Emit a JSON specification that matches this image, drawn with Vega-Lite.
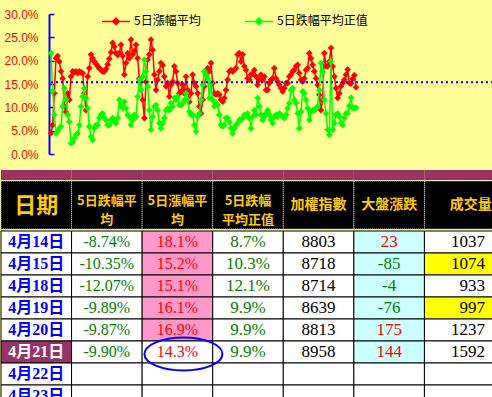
{
 "$schema": "https://vega.github.io/schema/vega-lite/v6.json",
 "background": "#FFFF99",
 "padding": {"left": 0, "top": 6, "right": 0, "bottom": 0},
 "config": {"view": {"stroke": null}},
 "datasets": {
  "series": [
{"i":0,"up":4.5,"dn":21.6},{"i":1,"up":6.2,"dn":13.5},{"i":2,"up":13,"dn":8.4},{"i":3,"up":20.5,"dn":4.4},{"i":4,"up":21,"dn":4.8},{"i":5,"up":19.8,"dn":5.5},{"i":6,"up":17.7,"dn":5.9},{"i":7,"up":16.2,"dn":10.2},{"i":8,"up":10.2,"dn":14.1},{"i":9,"up":9,"dn":11.6},
{"i":10,"up":13,"dn":8.4},{"i":11,"up":11.6,"dn":6.9},{"i":12,"up":16.6,"dn":2.3},{"i":13,"up":17.7,"dn":2.6},{"i":14,"up":17.5,"dn":3.4},{"i":15,"up":17.7,"dn":4.1},{"i":16,"up":17.3,"dn":4.4},{"i":17,"up":17.7,"dn":6.2},{"i":18,"up":17.5,"dn":10.2},{"i":19,"up":17.3,"dn":12.3},
{"i":20,"up":13,"dn":14.1},{"i":21,"up":9.4,"dn":12},{"i":22,"up":16.6,"dn":9.8},{"i":23,"up":18.4,"dn":5.9},{"i":24,"up":21.3,"dn":3.7},{"i":25,"up":20.5,"dn":3},{"i":26,"up":19.8,"dn":5.5},{"i":27,"up":19.3,"dn":6.2},{"i":28,"up":18.8,"dn":6.2},{"i":29,"up":18.4,"dn":7.7},
{"i":30,"up":18,"dn":8.4},{"i":31,"up":17.7,"dn":8.7},{"i":32,"up":17.7,"dn":7.7},{"i":33,"up":18.2,"dn":7.3},{"i":34,"up":19.2,"dn":6.2},{"i":35,"up":20.4,"dn":6.2},{"i":36,"up":21.8,"dn":7.3},{"i":37,"up":23.8,"dn":7.7},{"i":38,"up":23,"dn":6.9},{"i":39,"up":21.6,"dn":6.6},
{"i":40,"up":21.2,"dn":7.7},{"i":41,"up":21.6,"dn":11.6},{"i":42,"up":23.4,"dn":10.2},{"i":43,"up":21,"dn":9.8},{"i":44,"up":17,"dn":11.2},{"i":45,"up":19.5,"dn":9.8},{"i":46,"up":21.6,"dn":8.4},{"i":47,"up":20.5,"dn":8},{"i":48,"up":24.5,"dn":6.2},{"i":49,"up":21.3,"dn":7.3},
{"i":50,"up":22,"dn":8.4},{"i":51,"up":23.4,"dn":8},{"i":52,"up":20.5,"dn":12.3},{"i":53,"up":16.2,"dn":15.9},{"i":54,"up":15.5,"dn":13.7},{"i":55,"up":11.6,"dn":16.6},{"i":56,"up":7.7,"dn":20.2},{"i":57,"up":15.5,"dn":17.7},{"i":58,"up":20.2,"dn":14.5},{"i":59,"up":21.3,"dn":9.4},
{"i":60,"up":24.5,"dn":5.2},{"i":61,"up":22.3,"dn":8},{"i":62,"up":17,"dn":10.2},{"i":63,"up":13.7,"dn":10.5},{"i":64,"up":15.9,"dn":9.4},{"i":65,"up":17.7,"dn":6.6},{"i":66,"up":19.5,"dn":5.5},{"i":67,"up":19,"dn":6.6},{"i":68,"up":16.6,"dn":7.7},{"i":69,"up":14.5,"dn":9.4},
{"i":70,"up":15.2,"dn":9.8},{"i":71,"up":12.3,"dn":9.4},{"i":72,"up":14.8,"dn":10.9},{"i":73,"up":15.5,"dn":10.2},{"i":74,"up":18.8,"dn":12},{"i":75,"up":17.7,"dn":11.6},{"i":76,"up":15.2,"dn":12.3},{"i":77,"up":13,"dn":10.5},{"i":78,"up":13.4,"dn":10.5},{"i":79,"up":14.8,"dn":10.9},
{"i":80,"up":13,"dn":11.6},{"i":81,"up":16.6,"dn":13},{"i":82,"up":13.7,"dn":11.6},{"i":83,"up":11.2,"dn":9.1},{"i":84,"up":13,"dn":8.4},{"i":85,"up":17,"dn":8.4},{"i":86,"up":15.2,"dn":6.2},{"i":87,"up":14.5,"dn":4.8},{"i":88,"up":13,"dn":8},{"i":89,"up":10.2,"dn":8.7},
{"i":90,"up":8.7,"dn":11.6},{"i":91,"up":11.6,"dn":14.8},{"i":92,"up":14.5,"dn":17.7},{"i":93,"up":17,"dn":17},{"i":94,"up":18.4,"dn":16.2},{"i":95,"up":17.7,"dn":12},{"i":96,"up":19.5,"dn":15.2},{"i":97,"up":15.2,"dn":11.6},{"i":98,"up":13,"dn":10.2},{"i":99,"up":12.7,"dn":10.9},
{"i":100,"up":13,"dn":10.5},{"i":101,"up":12.7,"dn":8.4},{"i":102,"up":11.6,"dn":6.2},{"i":103,"up":11.2,"dn":5.9},{"i":104,"up":12,"dn":6.2},{"i":105,"up":13.7,"dn":7.7},{"i":106,"up":15.9,"dn":7.7},{"i":107,"up":17.7,"dn":6.9},{"i":108,"up":18,"dn":5.5},{"i":109,"up":17.7,"dn":4.4},
{"i":110,"up":18,"dn":5.5},{"i":111,"up":18.4,"dn":6.2},{"i":112,"up":21.3,"dn":6.6},{"i":113,"up":21.6,"dn":7.3},{"i":114,"up":19.8,"dn":7.3},{"i":115,"up":21.3,"dn":7.7},{"i":116,"up":18.8,"dn":8.4},{"i":117,"up":18,"dn":8.4},{"i":118,"up":16.2,"dn":8.7},{"i":119,"up":15.9,"dn":7.7},
{"i":120,"up":17,"dn":5.5},{"i":121,"up":17.3,"dn":8},{"i":122,"up":18,"dn":9.4},{"i":123,"up":16.6,"dn":8.4},{"i":124,"up":14.8,"dn":12},{"i":125,"up":15.9,"dn":10.2},{"i":126,"up":17,"dn":8.4},{"i":127,"up":15.9,"dn":7.3},{"i":128,"up":16.6,"dn":8},{"i":129,"up":13.7,"dn":8.7},
{"i":130,"up":13.7,"dn":9.4},{"i":131,"up":15.2,"dn":8.4},{"i":132,"up":15.9,"dn":7.3},{"i":133,"up":16.2,"dn":6.6},{"i":134,"up":18.4,"dn":8},{"i":135,"up":16.2,"dn":8.4},{"i":136,"up":15.5,"dn":8},{"i":137,"up":14.8,"dn":8.7},{"i":138,"up":14.1,"dn":8.4},{"i":139,"up":13.4,"dn":8},
{"i":140,"up":14.1,"dn":7.7},{"i":141,"up":15.2,"dn":8.4},{"i":142,"up":15.2,"dn":9.8},{"i":143,"up":16.6,"dn":10.9},{"i":144,"up":17,"dn":13.7},{"i":145,"up":17.7,"dn":14.1},{"i":146,"up":18,"dn":11.6},{"i":147,"up":18.8,"dn":10.9},{"i":148,"up":19.1,"dn":8.7},{"i":149,"up":17.3,"dn":5.5},
{"i":150,"up":15.9,"dn":9.1},{"i":151,"up":15.5,"dn":13.4},{"i":152,"up":16.2,"dn":13},{"i":153,"up":18,"dn":11.6},{"i":154,"up":18.4,"dn":9.8},{"i":155,"up":21.6,"dn":7.3},{"i":156,"up":20.5,"dn":9.1},{"i":157,"up":19.1,"dn":9.4},{"i":158,"up":17.7,"dn":9.4},{"i":159,"up":16.2,"dn":9.8},
{"i":160,"up":14.8,"dn":10.2},{"i":161,"up":12.7,"dn":13.7},{"i":162,"up":9.4,"dn":19.5},{"i":163,"up":11.6,"dn":17.7},{"i":164,"up":21.6,"dn":11.6},{"i":165,"up":18.8,"dn":8.7},{"i":166,"up":18.8,"dn":5.2},{"i":167,"up":19.8,"dn":4.1},{"i":168,"up":22.7,"dn":19.8},{"i":169,"up":18.8,"dn":5.2},
{"i":170,"up":16.6,"dn":6.6},{"i":171,"up":14.1,"dn":8.4},{"i":172,"up":12,"dn":8.7},{"i":173,"up":13,"dn":8},{"i":174,"up":14.5,"dn":6.6},{"i":175,"up":15.2,"dn":6.2},{"i":176,"up":15.9,"dn":7.7},{"i":177,"up":17,"dn":8.7},{"i":178,"up":18.1,"dn":8.7},{"i":179,"up":15.2,"dn":10.3},
{"i":180,"up":15.1,"dn":12.1},{"i":181,"up":16.1,"dn":9.9},{"i":182,"up":16.9,"dn":9.9},{"i":183,"up":14.3,"dn":9.9}
  ],
  "table": [
   {"date":"4月14日","dn":"-8.74%","up":"18.1%","dnp":"8.7%","idx":"8803","chg":"23","vol":"1037"},
   {"date":"4月15日","dn":"-10.35%","up":"15.2%","dnp":"10.3%","idx":"8718","chg":"-85","vol":"1074"},
   {"date":"4月18日","dn":"-12.07%","up":"15.1%","dnp":"12.1%","idx":"8714","chg":"-4","vol":"933"},
   {"date":"4月19日","dn":"-9.89%","up":"16.1%","dnp":"9.9%","idx":"8639","chg":"-76","vol":"997"},
   {"date":"4月20日","dn":"-9.87%","up":"16.9%","dnp":"9.9%","idx":"8813","chg":"175","vol":"1237"},
   {"date":"4月21日","dn":"-9.90%","up":"14.3%","dnp":"9.9%","idx":"8958","chg":"144","vol":"1592"},
   {"date":"4月22日"},
   {"date":"4月23日"}
  ],
  "heads": [
   {"col":"date","label":"日期"},
   {"col":"dn","label":"5日跌幅平\n均"},
   {"col":"up","label":"5日漲幅平\n均"},
   {"col":"dnp","label":"5日跌幅\n平均正值"},
   {"col":"idx","label":"加權指數"},
   {"col":"chg","label":"大盤漲跌"},
   {"col":"vol","label":"成交量"}
  ]
 },
 "spacing": 10,
 "vconcat": [
  {
   "width": 444,
   "height": 140,
   "layer": [
    {
     "data": {"name": "series"},
     "transform": [{"fold": ["up", "dn"], "as": ["s", "v"]}, {"filter": "datum.s == 'up'"}],
     "mark": {"type": "line", "strokeWidth": 1.5, "point": {"shape": "diamond", "size": 45, "filled": true, "opacity": 1}},
     "encoding": {
      "x": {"field": "i", "type": "quantitative", "scale": {"domain": [-1.2, 265.2], "nice": false, "zero": false}, "axis": null},
      "y": {"field": "v", "type": "quantitative", "scale": {"domain": [0, 30], "nice": false},
       "axis": {"values": [0, 5, 10, 15, 20, 25, 30], "tickCount": 7, "labelOverlap": false, "labelExpr": "format(datum.value, '.1f') + '%'", "labelColor": "#FF0000", "labelFont": "Liberation Sans", "labelFontSize": 12, "domainColor": "#0000FF", "domainWidth": 2, "tickColor": "#0000FF", "tickWidth": 1.5, "tickSize": -5, "labelPadding": 16, "grid": false, "title": null, "minExtent": 48, "maxExtent": 48}},
      "color": {"field": "s", "type": "nominal", "scale": {"domain": ["up", "dn"], "range": ["#FF0000", "#00FF00"]},
       "legend": {"orient": "none", "legendX": 52, "legendY": -8, "direction": "horizontal", "title": null, "symbolType": "M-1,0L1,0M-0.23,0L0,-0.23L0.23,0L0,0.23Z", "symbolSize": 784, "symbolStrokeWidth": 1.5, "labelFont": "Noto Sans CJK TC", "labelFontSize": 12, "labelColor": "#000000", "labelOffset": 3, "columnPadding": 41, "padding": 0, "labelExpr": "datum.label == 'up' ? '5日漲幅平均' : '5日跌幅平均正值'",
        "encode": {"symbols": {"update": {"fill": {"scale": "color", "field": "value"}, "stroke": {"scale": "color", "field": "value"}, "opacity": {"value": 1}}}}}}
     }
    },
    {
     "data": {"name": "series"},
     "transform": [{"fold": ["up", "dn"], "as": ["s", "v"]}, {"filter": "datum.s == 'dn'"}],
     "mark": {"type": "line", "strokeWidth": 1.5, "point": {"shape": "diamond", "size": 45, "filled": true, "opacity": 1}},
     "encoding": {
      "x": {"field": "i", "type": "quantitative"},
      "y": {"field": "v", "type": "quantitative"},
      "color": {"field": "s", "type": "nominal"}
     }
    },
    {
     "data": {"values": [{}]},
     "mark": {"type": "rule", "color": "#0000FF", "strokeWidth": 2, "strokeDash": [2, 3]},
     "encoding": {"y": {"datum": 15.35, "type": "quantitative"}}
    }
   ]
  },
  {
   "spacing": 0,
   "vconcat": [
    {
     "width": 444,
     "height": 10,
     "data": {"name": "heads"},
     "mark": {"type": "rect", "fill": "#993366"},
     "encoding": {
      "x": {"field": "col", "type": "nominal", "scale": {"domain": ["date", "dn", "up", "dnp", "idx", "chg", "vol"], "range": [-48, 446], "paddingInner": 0, "paddingOuter": 0}, "axis": null}
     }
    },
    {
     "width": 444,
     "height": 48,
     "data": {"name": "heads"},
     "encoding": {
      "x": {"field": "col", "type": "nominal", "scale": {"domain": ["date", "dn", "up", "dnp", "idx", "chg", "vol"], "range": [-48, 446], "paddingInner": 0, "paddingOuter": 0}, "axis": null}
     },
     "layer": [
      {"mark": {"type": "rect", "fill": "#000000", "stroke": "#C0C0C0", "strokeWidth": 1, "strokeDash": [1, 1]}},
      {
       "transform": [{"filter": "datum.col == 'date'"}],
       "mark": {"type": "text", "font": "Noto Sans CJK TC", "fontWeight": "bold", "color": "#FFCC00", "fontSize": 22, "dy": 1},
       "encoding": {"text": {"field": "label", "type": "nominal"}}
      },
      {
       "transform": [{"filter": "datum.col == 'dn' || datum.col == 'up' || datum.col == 'dnp'"}],
       "mark": {"type": "text", "font": "Noto Sans CJK TC", "fontWeight": "bold", "color": "#FFCC00", "fontSize": 13, "lineBreak": "\n", "lineHeight": 19, "dy": -4},
       "encoding": {"text": {"field": "label", "type": "nominal"}}
      },
      {
       "transform": [{"filter": "datum.col == 'idx' || datum.col == 'chg'"}],
       "mark": {"type": "text", "font": "Noto Sans CJK TC", "fontWeight": "bold", "color": "#FFCC00", "fontSize": 14},
       "encoding": {"text": {"field": "label", "type": "nominal"}}
      },
      {
       "transform": [{"filter": "datum.col == 'vol'"}],
       "mark": {"type": "text", "font": "Noto Sans CJK TC", "fontWeight": "bold", "color": "#FFCC00", "fontSize": 14, "dx": 11},
       "encoding": {"text": {"field": "label", "type": "nominal"}}
      }
     ]
    },
    {
     "width": 444,
     "height": 176,
     "data": {"name": "table"},
     "transform": [{"fold": ["date", "dn", "up", "dnp", "idx", "chg", "vol"], "as": ["col", "val"]}],
     "encoding": {
      "x": {"field": "col", "type": "nominal", "scale": {"domain": ["date", "dn", "up", "dnp", "idx", "chg", "vol"], "range": [-48, 446], "paddingInner": 0, "paddingOuter": 0}, "axis": null},
      "y": {"field": "date", "type": "nominal", "scale": {"domain": ["4月14日", "4月15日", "4月18日", "4月19日", "4月20日", "4月21日", "4月22日", "4月23日"], "range": [0, 176], "paddingInner": 0, "paddingOuter": 0}, "axis": null}
     },
     "layer": [
      {
       "mark": {"type": "rect", "stroke": "#000000", "strokeWidth": 1},
       "encoding": {
        "fill": {"condition": [
         {"test": "datum.col == 'date' && datum.date == '4月21日'", "value": "#993366"},
         {"test": "datum.col == 'up' && isValid(datum.val) && datum.date != '4月21日'", "value": "#FF99CC"},
         {"test": "datum.col == 'chg' && isValid(datum.val)", "value": "#CCFFFF"},
         {"test": "datum.col == 'vol' && (datum.val == '1074' || datum.val == '997')", "value": "#FFFF00"}
        ], "value": "#FFFFFF"}
       }
      },
      {
       "transform": [{"filter": "datum.col == 'date'"}],
       "mark": {"type": "text", "font": "Liberation Serif, Noto Sans CJK TC", "fontWeight": "bold", "fontSize": 16, "dy": 0},
       "encoding": {
        "text": {"field": "val", "type": "nominal"},
        "color": {"condition": {"test": "datum.date == '4月21日'", "value": "#FFFFFF"}, "value": "#0000FF"}
       }
      },
      {
       "transform": [{"filter": "datum.col != 'date' && datum.col != 'vol' && isValid(datum.val)"}],
       "mark": {"type": "text", "font": "Liberation Serif", "dy": 0},
       "encoding": {
        "text": {"field": "val", "type": "nominal"},
        "color": {"condition": [
         {"test": "datum.col == 'up'", "value": "#FF0000"},
         {"test": "datum.col == 'dn' || datum.col == 'dnp'", "value": "#008000"},
         {"test": "datum.col == 'chg' && toNumber(datum.val) < 0", "value": "#008000"},
         {"test": "datum.col == 'chg'", "value": "#FF0000"}
        ], "value": "#000000"},
        "size": {"condition": [
         {"test": "datum.col == 'dn' || datum.col == 'up'", "value": 16}
        ], "value": 17}
       }
      },
      {
       "transform": [{"filter": "datum.col == 'vol' && isValid(datum.val)"}],
       "mark": {"type": "text", "font": "Liberation Serif", "fontSize": 17, "align": "right", "dx": -10, "dy": 0, "color": "#000000"},
       "encoding": {
        "x": {"field": "col", "type": "nominal", "bandPosition": 1},
        "text": {"field": "val", "type": "nominal"}
       }
      },
      {
       "transform": [{"filter": "datum.col == 'up' && datum.date == '4月21日'"}],
       "mark": {"type": "point", "shape": "M-1,0A1,0.42 0 1,1 1,0A1,0.42 0 1,1 -1,0Z", "size": 6084, "filled": false, "color": "#0000FF", "strokeWidth": 2, "opacity": 1, "xOffset": 6, "yOffset": 2}
      }
     ]
    }
   ]
  }
 ]
}
